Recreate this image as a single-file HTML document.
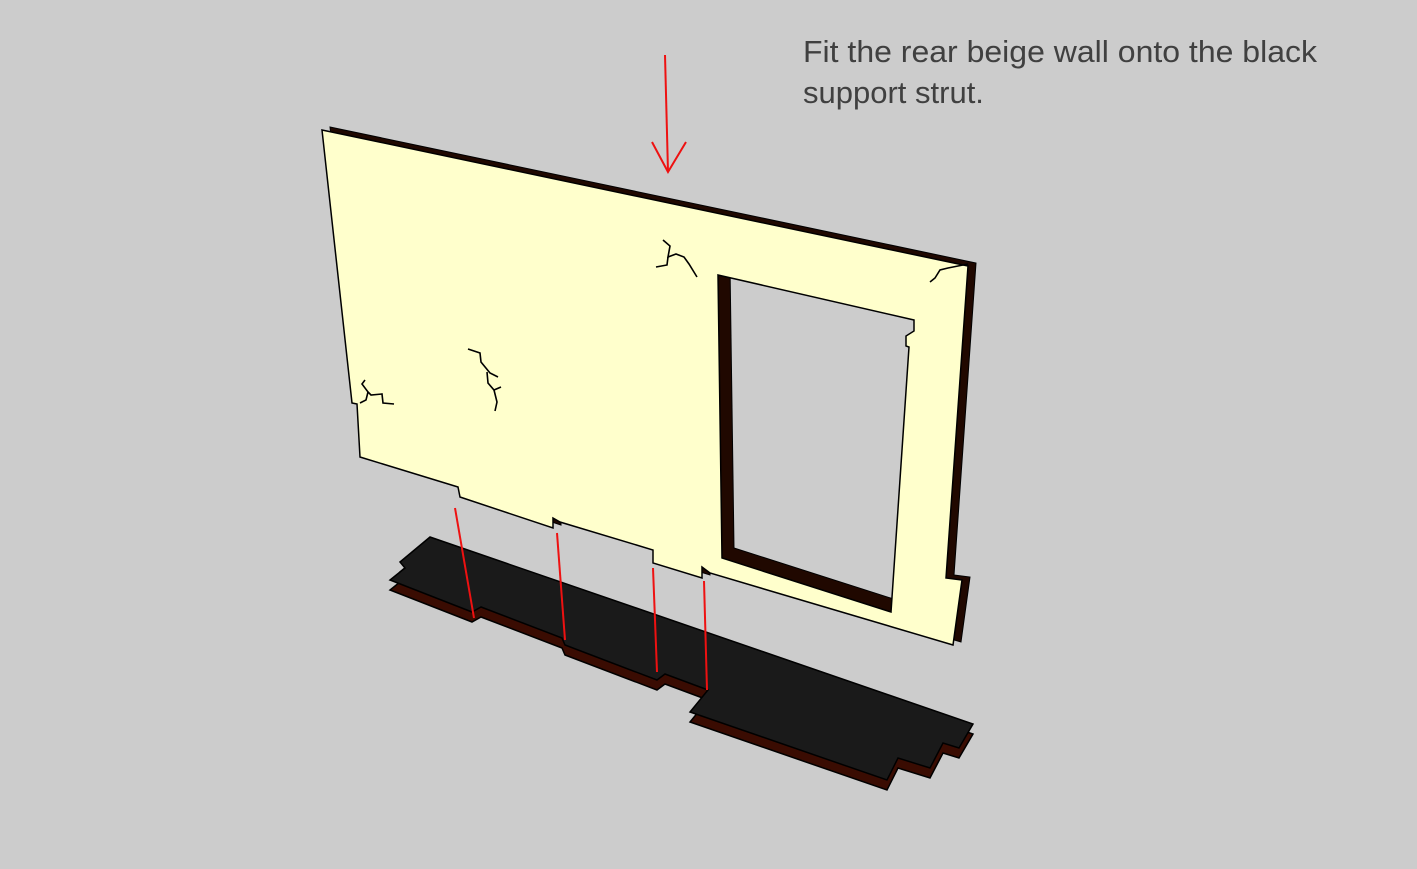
<!DOCTYPE html>
<html><head><meta charset="utf-8"><style>
html,body{margin:0;padding:0;background:#cccccc;}
svg{display:block;}
</style></head><body>
<svg width="1417" height="869" viewBox="0 0 1417 869" xmlns="http://www.w3.org/2000/svg">
<rect width="1417" height="869" fill="#cccccc"/>
<defs>
<clipPath id="hole"><polygon points="718,275 914,320 914,331 906,336 906,346 909,347 891,612 722,558"/></clipPath>
</defs>
<g transform="translate(0,10)">
<polygon points="430,537 973,724 959,748 943,743 930,768 898,758 887,780 690,712 708,690 665,674 657,680 565,645 562,638 481,607 472,612 390,580 405,568 400,562" fill="#3a0c02" stroke="#000" stroke-width="1.5"/>
</g>
<polygon points="430,537 973,724 959,748 943,743 930,768 898,758 887,780 690,712 708,690 665,674 657,680 565,645 562,638 481,607 472,612 390,580 405,568 400,562" fill="#1a1a1a" stroke="#000" stroke-width="1.5"/>
<g transform="translate(8,-3)">
<polygon points="322,130 968,266 946,578 962,580 953,645 710,573 702,567 702,578 653,563 653,550 560,522 553,518 553,528 460,497 458,487 360,457 357,404 352,403" fill="#200800" stroke="#000" stroke-width="1"/>
</g>
<polygon points="322,130 968,266 946,578 962,580 953,645 710,573 702,567 702,578 653,563 653,550 560,522 553,518 553,528 460,497 458,487 360,457 357,404 352,403" fill="#ffffcc" stroke="#000" stroke-width="1.5"/>
<g clip-path="url(#hole)">
<rect x="700" y="260" width="230" height="370" fill="#200800"/>
<polygon transform="translate(12,-10)" points="718,275 914,320 914,331 906,336 906,346 909,347 891,612 722,558" fill="#cccccc" stroke="#000" stroke-width="1"/>
</g>
<polygon points="718,275 914,320 914,331 906,336 906,346 909,347 891,612 722,558" fill="none" stroke="#000" stroke-width="1.5"/>
<g fill="none" stroke="#000" stroke-width="1.6">
<polyline points="468,349 480,353 481,362 490,373 498,377"/>
<polyline points="487,372 488,383 494,390 501,387"/>
<polyline points="494,390 497,402 495,411"/>
<polyline points="663,240 670,246 668,257 676,254 684,257 689,264 697,277"/>
<polyline points="668,257 667,265 656,267"/>
<polyline points="365,380 362,384 368,392 371,395 382,394 383,403 394,404"/>
<polyline points="368,392 366,400 360,403"/>
<polyline points="930,282 935,278 940,270 948,268 968,264"/>
</g>
<g stroke="#ee1111" stroke-width="2" fill="none">
<line x1="455" y1="508" x2="474" y2="618"/>
<line x1="557" y1="533" x2="565" y2="640"/>
<line x1="653" y1="568" x2="657" y2="672"/>
<line x1="704" y1="581" x2="707" y2="690"/>
<line x1="665" y1="55" x2="668" y2="172"/>
<polyline points="652,142 668,172 686,142"/>
</g>
<text x="803" y="62" font-family="Liberation Sans, sans-serif" font-size="31" fill="#404040" textLength="514" lengthAdjust="spacingAndGlyphs">Fit the rear beige wall onto the black</text>
<text x="803" y="103" font-family="Liberation Sans, sans-serif" font-size="31" fill="#404040">support strut.</text>
</svg>
</body></html>
